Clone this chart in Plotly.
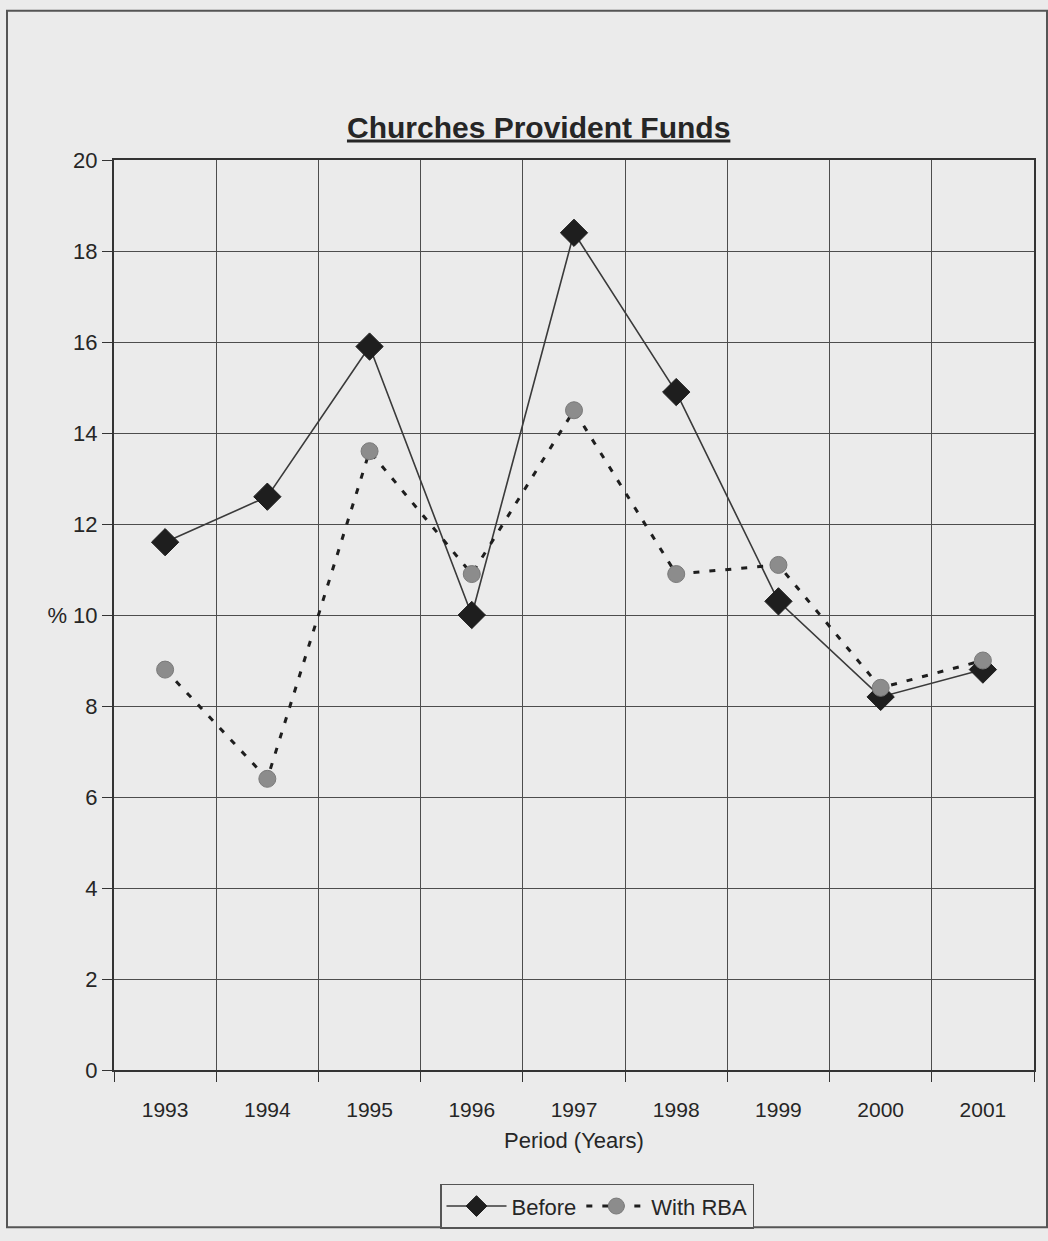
import plotly.graph_objects as go

# Annual returns (%) of the churches' provident funds
years = ["1993", "1994", "1995", "1996", "1997", "1998", "1999", "2000", "2001"]
before = [11.6, 12.6, 15.9, 10.0, 18.4, 14.9, 10.3, 8.2, 8.8]
with_rba = [8.8, 6.4, 13.6, 10.9, 14.5, 10.9, 11.1, 8.4, 9.0]

y_ticks = [0, 2, 4, 6, 8, 10, 12, 14, 16, 18, 20]
y_tick_text = ["0", "2", "4", "6", "8", "% 10", "12", "14", "16", "18", "20"]

BG = "#ebebeb"
INK = "#262626"
FONT = "Liberation Sans, Arial, sans-serif"

fig = go.Figure()

fig.add_trace(go.Scatter(
    x=years, y=before, name="Before", mode="lines+markers",
    line=dict(color="#3a3a3a", width=1.6),
    marker=dict(symbol="diamond", size=21, color="#1e1e1e",
                line=dict(color="#1e1e1e", width=1)),
))
fig.add_trace(go.Scatter(
    x=years, y=with_rba, name="With RBA", mode="lines+markers",
    line=dict(color="#1e1e1e", width=3, dash="6px,10px"),
    marker=dict(symbol="circle", size=17, color="#8c8c8c",
                line=dict(color="#7a7a7a", width=1)),
))

fig.update_layout(
    width=1048, height=1241,
    margin=dict(l=114, r=14, t=160, b=167),
    paper_bgcolor=BG, plot_bgcolor=BG,
    font=dict(family=FONT, color=INK, size=20),
    title=dict(
        text="<b><u>Churches Provident Funds</u></b>",
        x=0.514, xanchor="center", y=1 - 127 / 1241, yanchor="middle",
        font=dict(size=30, color=INK, family=FONT),
    ),
    xaxis=dict(
        type="category", tickson="boundaries", range=[-0.5, 8.5],
        showgrid=True, gridcolor="#4d4d4d", gridwidth=1,
        showline=True, linecolor="#333333", linewidth=2, mirror=True,
        ticks="outside", ticklen=10, tickcolor="#333333",
        tickfont=dict(size=21, color=INK), ticklabelstandoff=20,
        title=dict(text="Period (Years)", font=dict(size=22, color=INK), standoff=12),
    ),
    yaxis=dict(
        range=[0, 20], tickmode="array", tickvals=y_ticks, ticktext=y_tick_text,
        showgrid=True, gridcolor="#4d4d4d", gridwidth=1,
        showline=True, linecolor="#333333", linewidth=2, mirror=True,
        ticks="outside", ticklen=10, tickcolor="#333333",
        tickfont=dict(size=22, color=INK), zeroline=False,
    ),
    legend=dict(
        orientation="h", x=0.525, xanchor="center", y=-0.125, yanchor="top",
        bgcolor=BG, bordercolor="#555555", borderwidth=1.5,
        font=dict(size=22, color=INK), itemwidth=60,
    ),
    showlegend=True,
    shapes=[
        # outer chart frame
        dict(type="rect", xref="paper", yref="paper",
             x0=(7 - 114) / 920, x1=(1047 - 114) / 920,
             y0=(1074 - 1232) / 914, y1=(1074 - 10) / 914,
             line=dict(color="#555555", width=2), fillcolor="rgba(0,0,0,0)",
             layer="below"),
    ],
)

fig.write_html("out.html")
